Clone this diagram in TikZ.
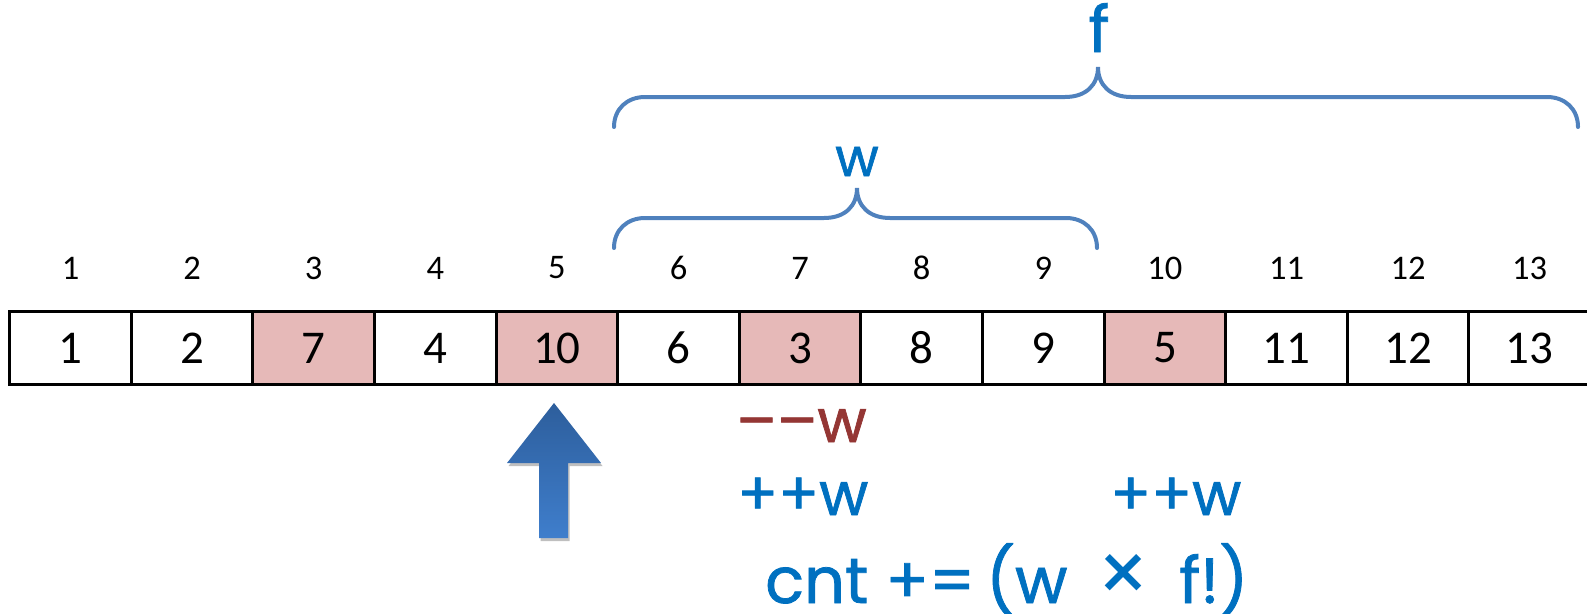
\documentclass[tikz,border=0pt]{standalone}
\usepackage{fontspec}
\setmainfont{Carlito}
\newfontfamily\notefont{Poppins}[FakeBold=1.2]
\newfontfamily\timesfont{Poppins}
\usetikzlibrary{shadows}

\definecolor{cellpink}{HTML}{E6B9B8}
\definecolor{bracecol}{HTML}{4F81BD}
\definecolor{noteblue}{HTML}{0070C0}
\definecolor{notered}{HTML}{943634}
\definecolor{arrowtop}{HTML}{2D5E9C}
\definecolor{arrowbot}{HTML}{3F7ECC}

\tikzset{
  cell/.style={draw=black, line width=3pt, minimum width=121.6pt, minimum height=73pt,
    inner sep=0pt, font=\fontsize{47}{50}\selectfont},
  hot/.style={cell, fill=cellpink},
  idx/.style={inner sep=0pt, font=\fontsize{34.5}{38}\selectfont},
  brace/.style={draw=bracecol, line width=4pt, line cap=round},
  note/.style={inner sep=0pt, anchor=base west, text=noteblue},
}

\begin{document}
\begin{tikzpicture}[x=1pt, y=-1pt]
  \useasboundingbox (0,0) rectangle (1587,613);

  % array cells and their positions
  \foreach \i/\v/\s in {1/1/cell, 2/2/cell, 3/7/hot, 4/4/cell, 5/10/hot, 6/6/cell, 7/3/hot,
                        8/8/cell, 9/9/cell, 10/5/hot, 11/11/cell, 12/12/cell, 13/13/cell} {
    \node[\s] (c\i) at ({70.5+121.6*(\i-1)}, 348) {\v};
    \node[idx] (i\i) at ({70.5+121.6*(\i-1)}, 268) {\i};
  }

  % braces over the window w and the range f
  \draw[brace] (614,248) .. controls (614,230) and (627,218) .. (645,218) -- (824,218)
    .. controls (845,218) and (857,206) .. (857,188)
    .. controls (857,206) and (869,218) .. (890,218) -- (1066,218)
    .. controls (1084,218) and (1097,230) .. (1097,248);
  \node[note, anchor=base, font=\notefont\fontsize{53}{56}\selectfont] (wlab) at (857,176) {w};

  \draw[brace] (614,127) .. controls (614,109) and (627,97) .. (645,97) -- (1065,97)
    .. controls (1086,97) and (1098,85) .. (1098,67)
    .. controls (1098,85) and (1110,97) .. (1131,97) -- (1547,97)
    .. controls (1565,97) and (1578,109) .. (1578,127);
  \node[note, anchor=base, font=\notefont\fontsize{64}{68}\selectfont] (flab) at (1099,52) {f};

  % current position pointer
  \path[top color=arrowtop, bottom color=arrowbot,
        drop shadow={shadow xshift=1.5pt, shadow yshift=-3pt, opacity=0.25, fill=black}]
    (554,403) -- (601,463) -- (568,463) -- (568,538) -- (539,538) -- (539,463) -- (507,463) -- cycle;

  % update notes
  \node[note, text=notered, font=\notefont\fontsize{60}{64}\selectfont] (dec) at (736,442) {––w};
  \node[note, font=\notefont\fontsize{60}{64}\selectfont] (inc1) at (737,515) {++w};
  \node[note, font=\notefont\fontsize{60}{64}\selectfont] (inc2) at (1110,515) {++w};
  \node[note, font=\notefont\fontsize{64}{68}\selectfont] (cnt) at (765,603)
    {cnt +=\,(w\hspace{0.45em}{\timesfont\fontsize{84}{84}\selectfont ×}\hspace{0.45em}f!)};
\end{tikzpicture}
\end{document}
